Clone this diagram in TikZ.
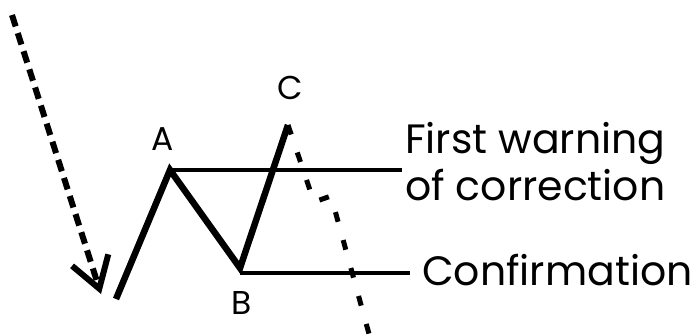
\documentclass[tikz,border=0pt]{standalone}
\usepackage{fontspec}
\setmainfont{Poppins}
\usetikzlibrary{arrows.meta}

\tikzset{
  swing/.style={line width=6.5pt, line join=miter},
  level/.style={line width=4pt},
  trend/.style={line width=6pt, dash pattern=on 12pt off 7pt},
  fade/.style={line width=5pt, dash pattern=on 10pt off 19pt},
  point/.style={font=\fontsize{33}{33}\selectfont, inner sep=0pt},
  note/.style={font=\fontsize{41}{41}\selectfont, inner sep=0pt, anchor=base west}
}

\begin{document}
\begin{tikzpicture}[x=1pt, y=-1pt, >={Straight Barb[length=30pt, width=38pt]}]
  \useasboundingbox (0,0) rectangle (699,335);
  % ------- the swing -------
  \coordinate (start) at (116,299);
  \coordinate (A) at (170,170);
  \coordinate (B) at (240,268);
  \coordinate (C) at (288,125);
  \draw[swing] (start) -- (A) -- (B) -- (C);
  % ------- levels -------
  \coordinate (Bl) at (240,273);
  \node[note] (warn) at (405,153) {First warning};
  \node[note] (warn2) at (405,200) {of correction};
  \node[note] (conf) at (422,285) {Confirmation};
  \draw[level] (A) -- (402,170);
  \draw[level] (Bl) -- (410,273);
  % ------- labels -------
  \node[point] (la) at (163,139) {A};
  \node[point] (lb) at (242,303) {B};
  \node[point] (lc) at (290,88) {C};
  % ------- dashed moves -------
  \coordinate (top) at (12,15);
  \coordinate (tip) at (101,294);
  \draw[trend, ->] (top) -- (tip);
  \draw[fade] (C) -- (314,202) -- (331,196) -- (374,352);
\end{tikzpicture}
\end{document}
